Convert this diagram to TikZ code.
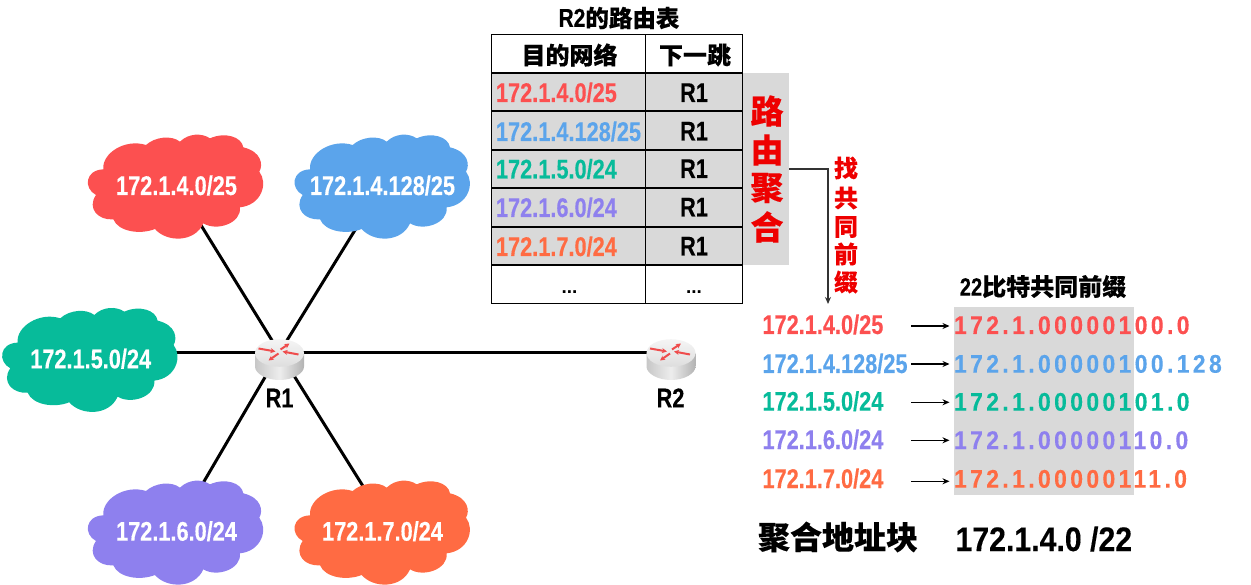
\documentclass[tikz,border=0pt]{standalone}
\usepackage{fontspec}
\usetikzlibrary{arrows.meta,backgrounds}
\setmainfont{Liberation Sans}
\newfontfamily\narrowlat[FakeStretch=0.805,BoldFeatures={FakeBold=0.25}]{Liberation Sans}
\newfontfamily\wideLat[FakeStretch=0.89,BoldFeatures={FakeBold=0.25}]{Liberation Sans}
\newfontfamily\spacedlat[FakeStretch=0.9,LetterSpace=13.2,BoldFeatures={FakeBold=0.25}]{Liberation Sans}
\newfontfamily\cjk[BoldFeatures={FakeBold=0.3}]{Noto Sans CJK SC}
\newcommand\NL[1]{{\fontsize{27}{27}\selectfont\narrowlat\bfseries #1}}
\newcommand\BIN[1]{{\fontsize{25.5}{25.5}\selectfont\spacedlat\bfseries #1}}
\newcommand\CJ[2]{{\fontsize{#1}{#1}\selectfont\cjk\bfseries #2}}
\definecolor{cred}{HTML}{FC5050}
\definecolor{cblue}{HTML}{5BA4EB}
\definecolor{cgreen}{HTML}{07BB9A}
\definecolor{cpurple}{HTML}{8E80EE}
\definecolor{corange}{HTML}{FF6B43}
\definecolor{cgrey}{HTML}{D9D9D9}
\definecolor{cword}{HTML}{EE0000}
\tikzset{
  x=1pt,y=-1pt,
  every node/.style={inner sep=0pt,outer sep=0pt},
  txt/.style={anchor=base west},
  ctr/.style={anchor=base},
  link/.style={line width=3pt,black},
  grid/.style={line width=1.4pt,black},
  tip/.style={-{Stealth[length=7pt,width=6pt]},line width=1.3pt,black},
  pics/cloud/.style={code={
    \fill[#1,x=0.3333pt,y=-0.3333pt]
      (100,148) .. controls (95,100) and (165,55) .. (228,75)
      .. controls (255,50) and (305,45) .. (330,65)
      .. controls (355,40) and (395,38) .. (420,55)
      .. controls (465,35) and (515,50) .. (520,82)
      .. controls (575,95) and (580,135) .. (568,155)
      .. controls (595,190) and (575,255) .. (510,262)
      .. controls (515,310) and (440,335) .. (400,310)
      .. controls (375,368) and (290,368) .. (255,327)
      .. controls (210,345) and (145,335) .. (130,298)
      .. controls (85,302) and (50,265) .. (78,225)
      .. controls (40,205) and (45,150) .. (100,148) -- cycle;
  }},
  pics/router/.style={code={
    \path[left color=black!22,right color=black!30,middle color=black!7,shading angle=90]
      (-24.5,1) -- (-24.5,14) .. controls (-24.5,21) and (-13.5,27.5) .. (0,27.5)
      .. controls (13.5,27.5) and (24.5,21) .. (24.5,14) -- (24.5,1) -- cycle;
    \path[top color=black!4,bottom color=black!13] (0,0.5) ellipse [x radius=24.5,y radius=13.8];
    \foreach \ax/\ay/\bx/\by in {-21/-4/-4/-1, 1/-3/10/-9, 19/2/3/-1, -1/1/-11/8}
      \draw[-{Stealth[length=5pt,width=5pt]},line width=2pt,color=cred!95!black] (\ax,\ay) -- (\bx,\by);
  }}
}
\begin{document}
\begin{tikzpicture}
\useasboundingbox (0,0) rectangle (1251,585);

% clouds
\pic at (70,120) {cloud=cred};
\pic at (276.7,120) {cloud=cblue};
\pic at (-15.7,293.3) {cloud=cgreen};
\pic at (70,466) {cloud=cpurple};
\pic at (276.7,466) {cloud=corange};
\node[ctr,white] (netA) at (176.5,195) {\NL{172.1.4.0/25}};
\node[ctr,white] (netB) at (382.5,195) {\NL{172.1.4.128/25}};
\node[ctr,white] (netC) at (90.7,368.3) {\NL{172.1.5.0/24}};
\node[ctr,white] (netD) at (176.5,540.7) {\NL{172.1.6.0/24}};
\node[ctr,white] (netE) at (382.5,540.7) {\NL{172.1.7.0/24}};
\coordinate (hubD) at (175,531);
\coordinate (hubE) at (391,531);

% routers
\node (R1) at (279.5,352.5) {};
\node (R2) at (671,352.5) {};
\pic at (R1) {router};
\pic at (R2) {router};
\node[ctr] (lab1) at (279.5,407.3) {\NL{R1}};
\node[ctr] (lab2) at (670.5,407.3) {\NL{R2}};

\begin{scope}[on background layer]
  \draw[link] (R1.center) -- (netA.center);
  \draw[link] (R1.center) -- (netB.center);
  \draw[link] (R1.center) -- (R1.center -| netC.center);
  \draw[link] (R1.center) -- (hubD);
  \draw[link] (R1.center) -- (hubE);
  \draw[link] (R1.center) -- (R2.center);
\end{scope}

% routing table
\node[anchor=north west,fill=cgrey,minimum width=298pt,minimum height=192pt] (shade) at (491,73) {};
\node[anchor=north west,fill=cgrey,minimum width=46pt,minimum height=192pt] (agg) at (743,73) {};
\draw[grid] (491.5,34.5) rectangle (742.5,303.5);
\draw[grid] (645.5,34.5) -- (645.5,303.5);
\foreach \yy in {73,111,150,188,227,265}
  \draw[grid] (491.5,\yy) -- (742.5,\yy);

\node (title) at (619,18) {{\fontsize{26}{26}\selectfont\narrowlat\bfseries R2}\CJ{23.5}{的路由表}};
\node (h1) at (569.5,55) {\CJ{24}{目的网络}};
\node (h2) at (695,55) {\CJ{24}{下一跳}};
\node[txt,color=cred] (t1) at (496,102) {\NL{172.1.4.0/25}};
\node[txt,color=cblue] (t2) at (496,141) {\NL{172.1.4.128/25}};
\node[txt,color=cgreen] (t3) at (496,178.5) {\NL{172.1.5.0/24}};
\node[txt,color=cpurple] (t4) at (496,217) {\NL{172.1.6.0/24}};
\node[txt,color=corange] (t5) at (496,256) {\NL{172.1.7.0/24}};
\foreach \nm/\yy in {a/102,b/140.5,c/178,d/216.5,e/255.5}
  \node[ctr] (hop\nm) at (694,\yy) {\NL{R1}};
\node[ctr] (dotsA) at (569.5,294) {{\fontsize{19}{19}\selectfont\bfseries ...}};
\node[ctr] (dotsB) at (694,294) {{\fontsize{19}{19}\selectfont\bfseries ...}};

% aggregation label
\foreach \ch/\yy in {路/111,由/150,聚/188,合/227}
  \node[color=cword] at (767,\yy) {\CJ{33}{\ch}};
\foreach \ch/\yy in {找/168,共/198,同/227,前/254,缀/282}
  \node[color=cword] at (846,\yy) {\CJ{24}{\ch}};
\coordinate (prefixEnd) at (828,304);
\draw[-{Stealth[length=7pt,width=6pt]},line width=1.2pt,color=black!80] (agg.east |- 0,169) -| (prefixEnd);

% address list
\node[anchor=north west,fill=cgrey,minimum width=180pt,minimum height=188pt] (common) at (954,307) {};
\node (head) at (1043,286.5) {{\fontsize{25}{25}\selectfont\narrowlat\bfseries 22}\CJ{24}{比特共同前缀}};
\node[txt,color=cred] (l1) at (762.5,334) {\NL{172.1.4.0/25}};
\node[txt,color=cblue] (l2) at (762.5,373) {\NL{172.1.4.128/25}};
\node[txt,color=cgreen] (l3) at (762.5,410.7) {\NL{172.1.5.0/24}};
\node[txt,color=cpurple] (l4) at (762.5,449) {\NL{172.1.6.0/24}};
\node[txt,color=corange] (l5) at (762.5,488) {\NL{172.1.7.0/24}};
\node[txt,color=cred] (b1) at (954,334) {\BIN{172.1.00000100.0}};
\node[txt,color=cblue] (b2) at (954,372.7) {\BIN{172.1.00000100.128}};
\node[txt,color=cgreen] (b3) at (954,410.7) {\BIN{172.1.00000101.0}};
\node[txt,color=cpurple] (b4) at (954,449) {\BIN{172.1.00000110.0}};
\node[txt,color=corange] (b5) at (954,487.7) {\BIN{172.1.00000111.0}};
\foreach \nm/\yy in {1/326,2/364,3/402.3,4/440.3,5/481.3}{
  \coordinate (from\nm) at (911,\yy);
  \coordinate (to\nm) at (949.5,\yy);
  \draw[tip] (from\nm) -- (to\nm);
}

\node (aggL) at (838,537) {\CJ{32}{聚合地址块}};
\node[txt] (aggV) at (955.5,551) {{\fontsize{34}{34}\selectfont\wideLat\bfseries 172.1.4.0 /22}};
\end{tikzpicture}
\end{document}
